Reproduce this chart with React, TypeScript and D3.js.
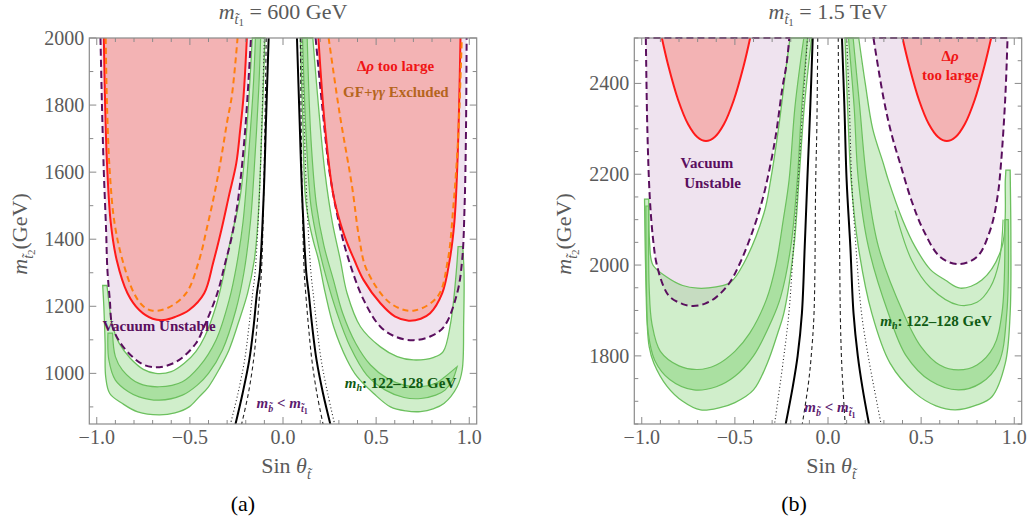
import React from "react";
import * as d3 from "d3";

type P = [number, number];

// ---------- axes ----------
const X_DOMAIN: P = [-1.04, 1.04];
const X_TICKS = [-1, -0.5, 0, 0.5, 1];
const A_Y_TICKS = [1000, 1200, 1400, 1600, 1800, 2000];
const B_Y_TICKS = [1800, 2000, 2200, 2400];

// ---------- panel (a): m_t1 = 600 GeV ----------
const A_purpleL: P[] = [[-0.98,2000],[-0.972,1800],[-0.962,1600],[-0.95,1430],[-0.943,1310],[-0.93,1220],[-0.916,1140],[-0.871,1089],[-0.81,1050],[-0.75,1026],[-0.69,1018],[-0.63,1022],[-0.557,1040],[-0.468,1089],[-0.423,1140],[-0.352,1240],[-0.31,1330],[-0.274,1410],[-0.239,1527],[-0.203,1726],[-0.172,2000]];
const A_purpleR: P[] = [[0.175,2000],[0.21,1800],[0.25,1600],[0.30,1450],[0.353,1338],[0.433,1219],[0.523,1139],[0.61,1108],[0.70,1099],[0.79,1110],[0.864,1139],[0.935,1239],[0.962,1338],[0.975,1500],[0.982,1700],[0.986,2000]];
const A_redL: P[] = [[-0.962,2000],[-0.955,1800],[-0.945,1626],[-0.925,1450],[-0.893,1338],[-0.835,1239],[-0.772,1189],[-0.70,1163],[-0.64,1159],[-0.58,1168],[-0.504,1189],[-0.423,1239],[-0.375,1330],[-0.33,1430],[-0.29,1530],[-0.251,1626],[-0.23,1725],[-0.212,1825],[-0.194,2000]];
const A_redR: P[] = [[0.19,2000],[0.227,1726],[0.272,1527],[0.33,1410],[0.383,1338],[0.433,1278],[0.523,1209],[0.60,1170],[0.675,1157],[0.74,1163],[0.79,1179],[0.855,1239],[0.895,1338],[0.92,1450],[0.938,1650],[0.953,2000]];
const A_orangeL: P[] = [[-0.952,2000],[-0.945,1800],[-0.93,1600],[-0.905,1450],[-0.862,1338],[-0.80,1239],[-0.75,1200],[-0.70,1187],[-0.62,1195],[-0.52,1239],[-0.45,1338],[-0.41,1430],[-0.37,1530],[-0.337,1626],[-0.30,1750],[-0.274,1830],[-0.244,2000]];
const A_orangeR: P[] = [[0.245,2000],[0.304,1775],[0.37,1560],[0.41,1400],[0.45,1308],[0.577,1209],[0.70,1187],[0.83,1229],[0.885,1338],[0.915,1500],[0.94,1700],[0.96,2000]];
const A_greenL_outer: P[] = [[-0.968,1262],[-0.962,1200],[-0.955,1089],[-0.952,990],[-0.93,940],[-0.862,910],[-0.78,885],[-0.665,876],[-0.58,882],[-0.504,900],[-0.45,930],[-0.40,960],[-0.34,1015],[-0.29,1070],[-0.24,1150],[-0.19,1239],[-0.154,1338],[-0.135,1450],[-0.122,1600],[-0.11,1780],[-0.097,2000]];
const A_greenL_inner: P[] = [[-0.945,1262],[-0.932,1200],[-0.915,1140],[-0.88,1090],[-0.82,1045],[-0.75,1012],[-0.683,1000],[-0.6,1005],[-0.53,1030],[-0.468,1065],[-0.42,1110],[-0.36,1200],[-0.32,1290],[-0.285,1390],[-0.23,1527],[-0.195,1726],[-0.165,2000]];
const A_darkL_lo: P[] = [[-0.94,1120],[-0.935,1040],[-0.90,980],[-0.83,945],[-0.773,930],[-0.665,920],[-0.54,935],[-0.46,965],[-0.40,1000],[-0.325,1070],[-0.253,1189],[-0.21,1300],[-0.175,1450],[-0.15,1650],[-0.13,1850],[-0.12,2000]];
const A_darkL_hi: P[] = [[-0.915,1120],[-0.90,1050],[-0.862,1010],[-0.773,970],[-0.665,960],[-0.54,975],[-0.45,1020],[-0.36,1099],[-0.289,1219],[-0.25,1320],[-0.215,1450],[-0.185,1650],[-0.16,1850],[-0.148,2000]];
const A_greenR_outer: P[] = [[0.093,2000],[0.105,1775],[0.12,1527],[0.14,1450],[0.165,1390],[0.191,1338],[0.227,1239],[0.272,1139],[0.344,1040],[0.398,990],[0.487,940],[0.577,900],[0.66,888],[0.738,886],[0.81,895],[0.864,910],[0.935,960],[0.962,1010],[0.97,1150],[0.972,1300],[0.965,1378]];
const A_greenR_inner: P[] = [[0.16,2000],[0.19,1800],[0.225,1600],[0.265,1450],[0.308,1338],[0.344,1239],[0.416,1139],[0.523,1079],[0.613,1050],[0.70,1040],[0.81,1048],[0.86,1065],[0.90,1150],[0.93,1300],[0.94,1378]];
const A_darkR_lo: P[] = [[0.105,2000],[0.125,1700],[0.15,1500],[0.19,1380],[0.235,1280],[0.29,1180],[0.36,1080],[0.45,995],[0.55,950],[0.65,928],[0.74,925],[0.82,935],[0.87,950],[0.91,980],[0.935,1020]];
const A_darkR_hi: P[] = [[0.13,2000],[0.15,1700],[0.18,1500],[0.22,1380],[0.27,1280],[0.32,1180],[0.39,1090],[0.47,1025],[0.56,985],[0.65,965],[0.74,960],[0.82,970],[0.87,990],[0.935,1020]];
const A_solidL: P[] = [[-0.077,2000],[-0.09,1775],[-0.104,1527],[-0.125,1300],[-0.14,1239],[-0.158,1139],[-0.181,1040],[-0.217,940],[-0.255,849]];
const A_dashL: P[] = [[-0.09,2000],[-0.096,1775],[-0.104,1527],[-0.116,1300],[-0.125,1239],[-0.14,1139],[-0.158,1040],[-0.186,940],[-0.222,849]];
const A_dotL: P[] = [[-0.1,2000],[-0.112,1775],[-0.127,1527],[-0.15,1300],[-0.163,1239],[-0.183,1139],[-0.206,1040],[-0.242,940],[-0.282,849]];
const A_solidR: P[] = [[0.075,2000],[0.088,1775],[0.103,1527],[0.125,1300],[0.138,1239],[0.157,1139],[0.18,1040],[0.215,940],[0.254,849]];
const A_dashR: P[] = [[0.093,2000],[0.097,1775],[0.103,1527],[0.114,1300],[0.122,1239],[0.137,1139],[0.155,1040],[0.182,940],[0.215,849]];
const A_dotR: P[] = [[0.1,2000],[0.112,1775],[0.127,1527],[0.15,1300],[0.162,1239],[0.182,1139],[0.205,1040],[0.24,940],[0.277,849]];

// ---------- panel (b): m_t1 = 1.5 TeV ----------
const B_purpleL: P[] = [[-0.978,2500],[-0.97,2300],[-0.957,2150],[-0.94,2060],[-0.921,2004],[-0.88,1950],[-0.849,1930],[-0.78,1914],[-0.724,1910],[-0.66,1915],[-0.598,1930],[-0.53,1960],[-0.473,2004],[-0.40,2080],[-0.348,2150],[-0.30,2240],[-0.276,2297],[-0.245,2390],[-0.222,2444],[-0.208,2500]];
const B_purpleR: P[] = [[0.244,2500],[0.297,2370],[0.34,2290],[0.387,2224],[0.45,2140],[0.512,2077],[0.602,2018],[0.70,2002],[0.80,2018],[0.871,2077],[0.91,2150],[0.929,2224],[0.952,2370],[0.964,2500]];
const B_redL: P[] = [[-0.892,2500],[-0.858,2440],[-0.804,2363],[-0.751,2310],[-0.702,2282],[-0.655,2273],[-0.608,2282],[-0.559,2310],[-0.506,2363],[-0.452,2440],[-0.418,2500]];
const B_redR: P[] = [[0.40,2500],[0.435,2440],[0.489,2363],[0.542,2310],[0.591,2282],[0.638,2273],[0.685,2282],[0.734,2310],[0.787,2363],[0.841,2440],[0.876,2500]];
const B_greenL_outer: P[] = [[-0.985,2145],[-0.982,2050],[-0.977,1950],[-0.972,1880],[-0.96,1820],[-0.935,1784],[-0.864,1733],[-0.78,1700],[-0.684,1681],[-0.58,1686],[-0.5,1697],[-0.40,1725],[-0.326,1784],[-0.27,1850],[-0.237,1894],[-0.183,2040],[-0.156,2187],[-0.127,2350],[-0.088,2500]];
const B_greenL_inner: P[] = [[-0.962,2145],[-0.958,2050],[-0.94,2000],[-0.87,1975],[-0.78,1955],[-0.70,1949],[-0.60,1952],[-0.523,1962],[-0.452,2004],[-0.344,2114],[-0.308,2187],[-0.267,2297],[-0.222,2444],[-0.204,2500]];
const B_darkL_lo: P[] = [[-0.978,2130],[-0.975,1950],[-0.965,1850],[-0.93,1790],[-0.85,1748],[-0.72,1725],[-0.6,1732],[-0.5,1755],[-0.40,1800],[-0.30,1880],[-0.254,1930],[-0.2,2040],[-0.165,2187],[-0.141,2350],[-0.11,2500]];
const B_darkL_hi: P[] = [[-0.962,2130],[-0.96,1950],[-0.945,1870],[-0.9,1810],[-0.8,1778],[-0.7,1770],[-0.6,1780],[-0.5,1810],[-0.42,1850],[-0.33,1925],[-0.28,2000],[-0.24,2100],[-0.209,2187],[-0.177,2350],[-0.13,2500]];
const B_greenR_outer: P[] = [[0.091,2500],[0.105,2350],[0.124,2187],[0.163,2040],[0.235,1894],[0.333,1784],[0.468,1718],[0.58,1690],[0.683,1681],[0.8,1692],[0.88,1710],[0.952,1784],[0.978,1894],[0.982,2050],[0.978,2209]];
const B_greenR_inner: P[] = [[0.165,2500],[0.2,2400],[0.24,2300],[0.297,2224],[0.324,2187],[0.40,2100],[0.468,2040],[0.55,1990],[0.629,1967],[0.71,1949],[0.826,1967],[0.934,2040],[0.952,2187],[0.955,2209]];
const B_darkR_lo: P[] = [[0.11,2500],[0.14,2350],[0.163,2187],[0.217,2040],[0.324,1894],[0.42,1800],[0.55,1745],[0.70,1725],[0.82,1740],[0.916,1784],[0.96,1894],[0.968,2100]];
const B_darkR_hi: P[] = [[0.135,2500],[0.17,2350],[0.208,2187],[0.271,2040],[0.405,1894],[0.5,1820],[0.6,1780],[0.70,1769],[0.8,1780],[0.889,1820],[0.934,1894],[0.95,2100]];
const B_contourR: P[] = [[0.36,2120],[0.45,2010],[0.55,1950],[0.70,1912],[0.80,1918],[0.87,1950],[0.92,2010],[0.94,2100]];
const B_solidL: P[] = [[-0.082,2500],[-0.095,2350],[-0.111,2187],[-0.125,2040],[-0.14,1894],[-0.163,1800],[-0.19,1730],[-0.227,1650]];
const B_dashL: P[] = [[-0.055,2500],[-0.06,2300],[-0.066,2187],[-0.075,1894],[-0.09,1800],[-0.105,1740],[-0.138,1650]];
const B_dotL: P[] = [[-0.11,2500],[-0.135,2350],[-0.16,2187],[-0.185,2040],[-0.21,1894],[-0.24,1790],[-0.287,1650]];
const B_solidR: P[] = [[0.075,2500],[0.088,2350],[0.1,2187],[0.12,2040],[0.137,1894],[0.16,1800],[0.185,1730],[0.22,1650]];
const B_dashR: P[] = [[0.055,2500],[0.058,2300],[0.06,2187],[0.066,1894],[0.072,1800],[0.078,1747],[0.092,1650]];
const B_dotR: P[] = [[0.1,2500],[0.115,2350],[0.127,2187],[0.15,2040],[0.18,1894],[0.22,1790],[0.285,1650]];

// ---------- styles ----------
const SERIF = "Liberation Serif, DejaVu Serif, serif";
const LAVENDER = "#efe3ef";
const PINK = "#f3b3b4";
const GREEN = "#7ccf6e";
const GREEN_LINE = "#6cc05e";
const PURPLE = "#5a0f5e";
const RED = "#ff1a1a";
const ORANGE = "#ff7f0e";
const AXIS = "#8a8a8a";
const TICK_TXT = "#5a5a5a";
const W = 1027, H = 529;

const PANEL_A = {
  id: "a",
  frame: { l: 89.3, r: 476.7, t: 38, b: 424 },
  yDomain: [849, 2000] as P,
  yTicks: A_Y_TICKS,
  yMinorStep: 100,
  purple: [A_purpleL, A_purpleR],
  purpleClosed: false,
  red: [A_redL, A_redR],
  orange: [A_orangeL, A_orangeR],
  green: [
    { outer: A_greenL_outer, inner: A_greenL_inner, lo: A_darkL_lo, hi: A_darkL_hi },
    { outer: A_greenR_outer, inner: A_greenR_inner, lo: A_darkR_lo, hi: A_darkR_hi },
  ],
  contours: [] as P[][],
  solid: [A_solidL, A_solidR],
  dash: [A_dashL, A_dashR],
  dot: [A_dotL, A_dotR],
  title: "= 600 GeV",
  tag: "(a)",
  tagX: 243,
  yLabelX: 27,
};

const PANEL_B = {
  id: "b",
  frame: { l: 634.3, r: 1021.7, t: 38, b: 424 },
  yDomain: [1650, 2500] as P,
  yTicks: B_Y_TICKS,
  yMinorStep: 50,
  purple: [B_purpleL, B_purpleR],
  purpleClosed: true,
  red: [B_redL, B_redR],
  orange: [] as P[][],
  green: [
    { outer: B_greenL_outer, inner: B_greenL_inner, lo: B_darkL_lo, hi: B_darkL_hi },
    { outer: B_greenR_outer, inner: B_greenR_inner, lo: B_darkR_lo, hi: B_darkR_hi },
  ],
  contours: [B_contourR],
  solid: [B_solidL, B_solidR],
  dash: [B_dashL, B_dashR],
  dot: [B_dotL, B_dotR],
  title: "= 1.5 TeV",
  tag: "(b)",
  tagX: 794,
  yLabelX: 571,
};

const fmtX = d3.format(".1f");
const TXT = { fontFamily: SERIF } as React.CSSProperties;

function Panel({ cfg, children }: { cfg: typeof PANEL_A; children: (xs: any, ys: any) => React.ReactNode }) {
  const { frame } = cfg;
  const xs = d3.scaleLinear().domain(X_DOMAIN).range([frame.l, frame.r]);
  const ys = d3.scaleLinear().domain(cfg.yDomain).range([frame.b, frame.t]);
  const line = d3.line<P>().x((p) => xs(p[0])).y((p) => ys(p[1])).curve(d3.curveCatmullRom.alpha(0.5));
  const open = (pts: P[]) => line(pts) || "";
  const closed = (pts: P[]) => open(pts) + "Z";
  const band = (o: P[], i: P[]) => open(o) + open([...i].reverse()).replace(/^M/, "L") + "Z";

  const xMinor = d3.range(-1, 1.0001, 0.1).filter((v) => !X_TICKS.some((t) => Math.abs(t - v) < 1e-6));
  const yMinor = d3
    .range(Math.ceil(cfg.yDomain[0] / cfg.yMinorStep) * cfg.yMinorStep, cfg.yDomain[1] + 1, cfg.yMinorStep)
    .filter((v) => !cfg.yTicks.includes(v));
  const clipId = `clip-${cfg.id}`;
  const cx = xs(0);

  return (
    <g>
      <defs>
        <clipPath id={clipId}>
          <rect x={frame.l} y={frame.t - 1.5} width={frame.r - frame.l} height={frame.b - frame.t + 1.5} />
        </clipPath>
      </defs>
      <g clipPath={`url(#${clipId})`}>
        {cfg.purple.map((c, k) => (
          <path key={"pf" + k} d={closed(c)} fill={LAVENDER} />
        ))}
        {cfg.red.map((c, k) => (
          <path key={"rf" + k} d={closed(c)} fill={PINK} />
        ))}
        {cfg.green.map((g, k) => (
          <path key={"gf" + k} d={band(g.outer, g.inner)} fill={GREEN} fillOpacity={0.36} stroke={GREEN_LINE} strokeWidth={1.3} />
        ))}
        {cfg.green.map((g, k) => (
          <path key={"gd" + k} d={band(g.lo, g.hi)} fill={GREEN} fillOpacity={0.45} stroke={GREEN_LINE} strokeWidth={1.2} />
        ))}
        {cfg.contours.map((c, k) => (
          <path key={"gc" + k} d={open(c)} fill="none" stroke={GREEN_LINE} strokeWidth={1.2} />
        ))}
        {cfg.purple.map((c, k) => (
          <path key={"pl" + k} d={cfg.purpleClosed ? closed(c) : open(c)} fill="none" stroke={PURPLE} strokeWidth={2} strokeDasharray="7 4" />
        ))}
        {cfg.red.map((c, k) => (
          <path key={"rl" + k} d={open(c)} fill="none" stroke={RED} strokeWidth={2} />
        ))}
        {cfg.orange.map((c, k) => (
          <path key={"ol" + k} d={open(c)} fill="none" stroke={ORANGE} strokeWidth={2} strokeDasharray="6 4" />
        ))}
        {cfg.dot.map((c, k) => (
          <path key={"bd" + k} d={open(c)} fill="none" stroke="#222" strokeWidth={1.1} strokeDasharray="1 2.5" />
        ))}
        {cfg.dash.map((c, k) => (
          <path key={"bs" + k} d={open(c)} fill="none" stroke="#222" strokeWidth={1.1} strokeDasharray="4 3" />
        ))}
        {cfg.solid.map((c, k) => (
          <path key={"bl" + k} d={open(c)} fill="none" stroke="#000" strokeWidth={2} />
        ))}
      </g>
      <rect x={frame.l} y={frame.t} width={frame.r - frame.l} height={frame.b - frame.t} fill="none" stroke={AXIS} strokeWidth={1.2} />
      {X_TICKS.map((t) => (
        <g key={"xt" + t}>
          <line x1={xs(t)} x2={xs(t)} y1={frame.b} y2={frame.b - 7} stroke={AXIS} />
          <line x1={xs(t)} x2={xs(t)} y1={frame.t} y2={frame.t + 7} stroke={AXIS} />
          <text style={TXT} x={xs(t)} y={frame.b + 20} textAnchor="middle" fontSize={20} fill={TICK_TXT}>
            {fmtX(t)}
          </text>
        </g>
      ))}
      {xMinor.map((t) => (
        <g key={"xm" + t}>
          <line x1={xs(t)} x2={xs(t)} y1={frame.b} y2={frame.b - 4} stroke={AXIS} />
          <line x1={xs(t)} x2={xs(t)} y1={frame.t} y2={frame.t + 4} stroke={AXIS} />
        </g>
      ))}
      {cfg.yTicks.map((t) => (
        <g key={"yt" + t}>
          <line x1={frame.l} x2={frame.l + 7} y1={ys(t)} y2={ys(t)} stroke={AXIS} />
          <line x1={frame.r} x2={frame.r - 7} y1={ys(t)} y2={ys(t)} stroke={AXIS} />
          <text style={TXT} x={frame.l - 5} y={ys(t)} dy="0.35em" textAnchor="end" fontSize={20} fill={TICK_TXT}>
            {t}
          </text>
        </g>
      ))}
      {yMinor.map((t) => (
        <g key={"ym" + t}>
          <line x1={frame.l} x2={frame.l + 4} y1={ys(t)} y2={ys(t)} stroke={AXIS} />
          <line x1={frame.r} x2={frame.r - 4} y1={ys(t)} y2={ys(t)} stroke={AXIS} />
        </g>
      ))}
      <text style={TXT} x={cx} y={19} textAnchor="middle" fontSize={22} fill={TICK_TXT}>
        <tspan fontStyle="italic">m</tspan>
        <tspan fontSize={14} dy={5} fontStyle="italic">{"t\u0303"}</tspan>
        <tspan fontSize={11} dy={2}>1</tspan>
        <tspan dy={-7}>{"  " + cfg.title}</tspan>
      </text>
      <text style={TXT} x={cx + 3} y={473} textAnchor="middle" fontSize={22} fill={TICK_TXT}>
        Sin <tspan fontStyle="italic">θ</tspan>
        <tspan fontSize={14} dy={6} fontStyle="italic">{"t\u0303"}</tspan>
      </text>
      <text style={TXT} transform={`translate(${cfg.yLabelX},${(frame.t + frame.b) / 2 + 3}) rotate(-90)`} textAnchor="middle" fontSize={22} fill={TICK_TXT}>
        <tspan fontStyle="italic">m</tspan>
        <tspan fontSize={14} dy={6} fontStyle="italic">{"t\u0303"}</tspan>
        <tspan fontSize={11} dy={2}>2</tspan>
        <tspan dy={-8}>(GeV)</tspan>
      </text>
      <text style={TXT} x={cfg.tagX} y={511} textAnchor="middle" fontSize={22} fill="#000">
        {cfg.tag}
      </text>
      {children(xs, ys)}
    </g>
  );
}

const LBL = { fontWeight: "bold" as const, fontSize: 15, textAnchor: "middle" as const, style: TXT };

function MbLabel({ x, y }: { x: number; y: number }) {
  return (
    <text x={x} y={y} {...LBL} fill="#5c1a6e">
      <tspan fontStyle="italic">m</tspan>
      <tspan fontSize={10} dy={4} fontStyle="italic">{"b\u0303"}</tspan>
      <tspan dy={-4}>{" < "}</tspan>
      <tspan fontStyle="italic">m</tspan>
      <tspan fontSize={10} dy={4} fontStyle="italic">{"t\u0303"}</tspan>
      <tspan fontSize={8} dy={2}>1</tspan>
    </text>
  );
}

function MhLabel({ x, y }: { x: number; y: number }) {
  return (
    <text x={x} y={y} {...LBL} fill="#0f5a12">
      <tspan fontStyle="italic">m</tspan>
      <tspan fontSize={10} dy={3} fontStyle="italic">h</tspan>
      <tspan dy={-3}>: 122–128 GeV</tspan>
    </text>
  );
}

export default function App() {
  return (
    <div style={{ position: "absolute", left: 0, top: 0, width: W, height: H, background: "#fff" }}>
      <svg width={W} height={H} style={{ fontFamily: SERIF, display: "block" }}>
        <rect width={W} height={H} fill="#fff" />
        <Panel cfg={PANEL_A}>
          {(xs, ys) => (
            <g>
              <text x={xs(0.604)} y={ys(1902)} {...LBL} fill="#f01414">
                Δ<tspan fontStyle="italic">ρ</tspan> too large
              </text>
              <text x={xs(0.606)} y={ys(1824)} {...LBL} fill="#b5651d">
                GF+<tspan fontStyle="italic">γγ</tspan> Excluded
              </text>
              <text x={xs(-0.665)} y={ys(1126)} {...LBL} fill={PURPLE}>
                Vacuum Unstable
              </text>
              <MhLabel x={xs(0.631)} y={ys(956)} />
              <MbLabel x={xs(-0.005)} y={ys(897)} />
            </g>
          )}
        </Panel>
        <Panel cfg={PANEL_B as any}>
          {(xs, ys) => (
            <g>
              <text x={xs(0.656)} y={ys(2449)} {...LBL} fill="#f01414">
                Δ<tspan fontStyle="italic">ρ</tspan>
              </text>
              <text x={xs(0.656)} y={ys(2407)} {...LBL} fill="#f01414">
                too large
              </text>
              <text x={xs(-0.65)} y={ys(2213)} {...LBL} fill={PURPLE}>
                Vacuum
              </text>
              <text x={xs(-0.62)} y={ys(2169)} {...LBL} fill={PURPLE}>
                Unstable
              </text>
              <MhLabel x={xs(0.58)} y={ys(1865)} />
              <MbLabel x={xs(0.01)} y={ys(1677)} />
            </g>
          )}
        </Panel>
      </svg>
    </div>
  );
}
